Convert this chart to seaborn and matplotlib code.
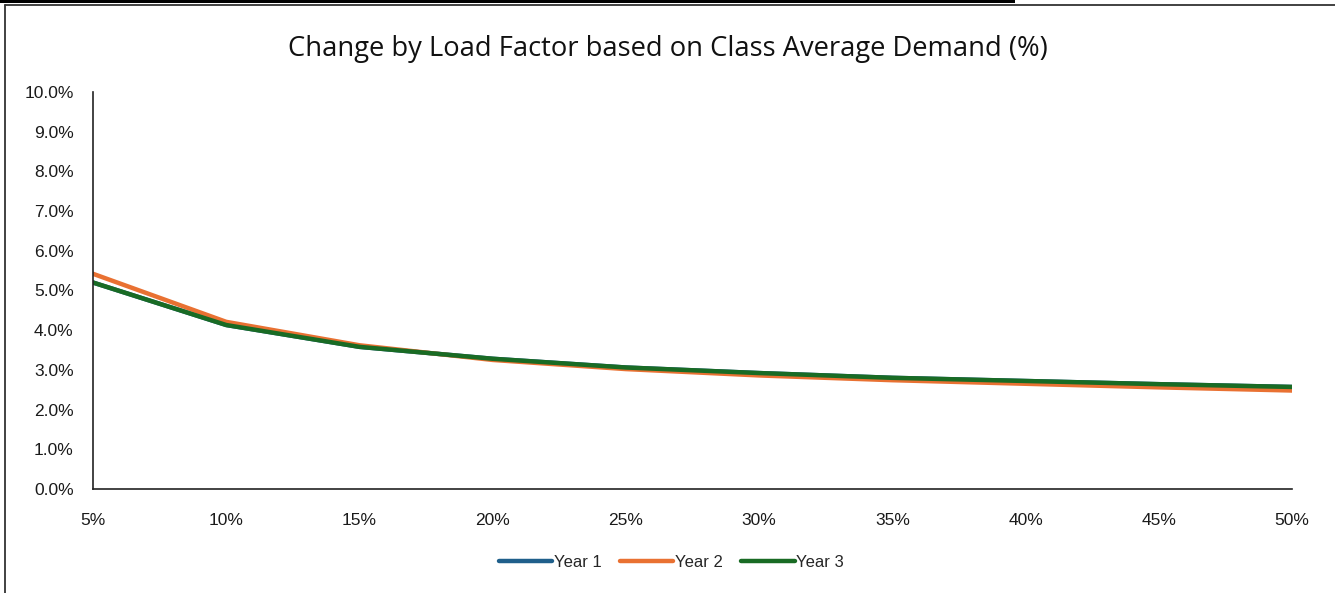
import pandas as pd
import matplotlib.pyplot as plt
import seaborn as sns
from matplotlib.lines import Line2D
from matplotlib.patches import Rectangle
from matplotlib.ticker import FuncFormatter

# Load factor (%) and change by year (%)
load_factor = [5, 10, 15, 20, 25, 30, 35, 40, 45, 50]
year_1 = [5.20, 4.13, 3.58, 3.28, 3.06, 2.92, 2.80, 2.72, 2.64, 2.57]
year_2 = [5.42, 4.21, 3.62, 3.25, 3.02, 2.86, 2.74, 2.65, 2.56, 2.48]
year_3 = [5.20, 4.13, 3.58, 3.28, 3.06, 2.92, 2.80, 2.72, 2.64, 2.57]

series = ['Year 1', 'Year 2', 'Year 3']
colors = ['#1F5F8B', '#E97132', '#196B24']

df = pd.DataFrame({
    'load_factor': load_factor * 3,
    'change': year_1 + year_2 + year_3,
    'series': [s for s in series for _ in load_factor],
})

sns.set_style('white')
plt.rcParams['font.family'] = ['Liberation Sans', 'DejaVu Sans']

fig = plt.figure(figsize=(13.35, 5.93), dpi=100)
ax = fig.add_axes([0.0697, 0.1754, 0.8981, 0.6695])

sns.lineplot(data=df, x='load_factor', y='change', hue='series',
             palette=dict(zip(series, colors)), linewidth=3.2,
             solid_capstyle='round', legend=False, ax=ax)

ax.set_xlim(5, 50)
ax.set_ylim(0, 10)
ax.set_xticks(load_factor)
ax.set_yticks(range(0, 11))
ax.xaxis.set_major_formatter(FuncFormatter(lambda v, p: f'{v:.0f}%'))
ax.yaxis.set_major_formatter(FuncFormatter(lambda v, p: f'{v:.1f}%'))
ax.tick_params(axis='both', length=0, labelsize=12.5, colors='#1a1a1a')
ax.tick_params(axis='y', pad=14)
ax.tick_params(axis='x', pad=17)
ax.set_xlabel('')
ax.set_ylabel('')
for side in ['top', 'right']:
    ax.spines[side].set_visible(False)
for side in ['left', 'bottom']:
    ax.spines[side].set_color('#222222')
    ax.spines[side].set_linewidth(1.2)

fig.text(0.5, 0.918, 'Change by Load Factor based on Class Average Demand (%)',
         ha='center', va='center', fontsize=19.7, family=['Open Sans', 'DejaVu Sans'],
         color='#111111')

handles = [Line2D([0], [0], color=c, linewidth=3.2, solid_capstyle='round') for c in colors]
fig.legend(handles, series, loc='center', bbox_to_anchor=(0.503, 0.052), ncol=3,
           frameon=False, fontsize=12, handlelength=3.2, handletextpad=0.1,
           columnspacing=1.1)

# frame around the chart
fig.add_artist(Rectangle((0, 1 - 3 / 593), 1015 / 1335, 3 / 593, transform=fig.transFigure,
                         color='black', lw=0))
fig.add_artist(Line2D([5 / 1335, 1], [1 - 5 / 593, 1 - 5 / 593], transform=fig.transFigure,
                      color='#333333', lw=1.3))
fig.add_artist(Line2D([5 / 1335, 5 / 1335], [0, 1 - 5 / 593], transform=fig.transFigure,
                      color='#333333', lw=1.3))

plt.savefig('out.png', dpi=100)
plt.close()
